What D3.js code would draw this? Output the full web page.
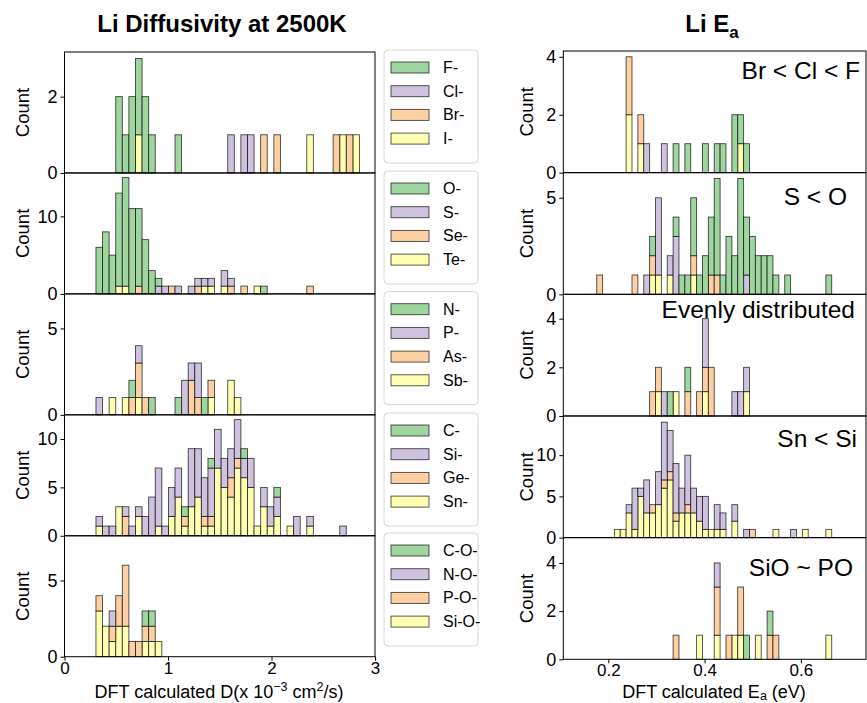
<!DOCTYPE html>
<html>
<head>
<meta charset="utf-8">
<script src="https://cdn.jsdelivr.net/npm/d3@7"></script>
<style>
  body { margin: 0; background: #fff; }
  text { font-family: "Liberation Sans", Arial, sans-serif; fill: #000; }
</style>
</head>
<body>
<svg id="chart" width="867" height="703"></svg>
<script>
// species in each group (legend order; first one is drawn on top of the stack)
const groups = [
  ['F-', 'Cl-', 'Br-', 'I-'],
  ['O-', 'S-', 'Se-', 'Te-'],
  ['N-', 'P-', 'As-', 'Sb-'],
  ['C-', 'Si-', 'Ge-', 'Sn-'],
  ['C-O-', 'N-O-', 'P-O-', 'Si-O-'],
];
const colors = ['#9fd69f', '#cec2df', '#fdd0a4', '#ffffb2'];

// histogram bins: [lo, hi, count]
const binsD = [0.304, 2.85, 40];
const binsEa = [0.176, 0.664, 40];

// counts as [bin index, count] per species
// --- Li diffusivity (left column)
const dHalide = [
  [[3, 2], [4, 1], [5, 2], [6, 2], [7, 2], [8, 1], [12, 1]],
  [[20, 1], [22, 1], [23, 1]],
  [[25, 1], [27, 1], [36, 1], [38, 1]],
  [[6, 1], [32, 1], [37, 1], [39, 1]],
];
const dChalc = [
  [[0, 6], [1, 8], [2, 5], [3, 12], [4, 14], [5, 11], [6, 10], [7, 7], [8, 3], [9, 1], [25, 1]],
  [[9, 1], [10, 1], [12, 1], [14, 1], [15, 1], [16, 1], [17, 1], [19, 2], [20, 1]],
  [[6, 1], [11, 1], [15, 1], [20, 1], [22, 1], [32, 1]],
  [[3, 1], [4, 1], [16, 1], [17, 1], [19, 1], [24, 1]],
];
const dPnict = [
  [[5, 1], [8, 1], [12, 1], [16, 1]],
  [[0, 1], [6, 1], [13, 2], [14, 1], [15, 2]],
  [[5, 1], [6, 2], [7, 1], [14, 2], [15, 1], [17, 1]],
  [[2, 1], [4, 1], [6, 1], [17, 1], [20, 2], [21, 1]],
];
const dTetrel = [
  [[13, 1], [17, 1], [22, 1], [27, 1]],
  [[0, 1], [1, 1], [2, 1], [4, 1], [5, 1], [6, 1], [7, 2], [8, 4], [9, 6], [10, 1], [11, 3], [12, 3],
   [14, 6], [15, 5], [16, 4], [17, 5], [18, 4], [19, 3], [20, 3], [21, 4], [22, 2], [23, 3],
   [25, 2], [26, 2], [27, 2], [30, 2], [32, 1], [37, 1]],
  [[4, 2], [13, 1], [16, 1], [17, 1], [20, 2], [21, 1]],
  [[0, 1], [3, 3], [6, 2], [9, 1], [11, 2], [12, 4], [13, 1], [14, 3], [15, 4], [16, 1], [17, 1],
   [18, 7], [19, 5], [20, 4], [21, 7], [22, 6], [23, 5], [24, 1], [25, 3], [26, 1], [27, 2], [29, 1], [32, 1]],
];
const dOxy = [
  [[7, 1], [8, 1]],
  [[2, 1]],
  [[0, 1], [2, 1], [3, 2], [4, 4], [5, 1], [6, 1], [7, 1], [8, 1]],
  [[0, 3], [1, 2], [2, 1], [3, 2], [4, 2], [7, 1], [8, 1], [9, 1]],
];

// --- Li Ea (right column)
const eaHalide = [
  [[13, 1], [15, 1], [18, 1], [20, 1], [21, 1], [23, 2], [24, 1], [25, 1]],
  [[8, 1], [11, 1]],
  [[5, 2], [7, 1]],
  [[5, 2], [7, 1], [24, 1]],
];
const eaChalc = [
  [[9, 1], [13, 1], [14, 1], [15, 1], [16, 3], [17, 1], [18, 2], [19, 3], [20, 5], [21, 1], [22, 3],
   [23, 2], [24, 6], [25, 3], [26, 3], [27, 2], [28, 2], [29, 2], [30, 1], [32, 1], [39, 1]],
  [[8, 1], [10, 4], [12, 1], [13, 3], [25, 1]],
  [[0, 1], [6, 1], [9, 1], [16, 1], [19, 1], [20, 1]],
  [[9, 1], [10, 1], [12, 1], [16, 1]],
];
const eaPnict = [
  [[12, 1], [15, 1]],
  [[11, 1], [18, 2], [23, 1], [24, 1], [25, 1]],
  [[9, 1], [10, 1], [15, 1], [17, 1], [18, 1], [19, 2]],
  [[10, 1], [13, 1], [18, 1], [25, 1]],
];
const eaTetrel = [
  [],
  [[5, 1], [6, 5], [7, 1], [8, 4], [10, 4], [11, 7], [12, 5], [13, 6], [14, 3], [15, 6], [16, 3],
   [17, 3], [18, 4], [20, 3], [21, 2], [23, 2], [25, 1], [33, 1]],
  [[9, 1], [11, 1], [12, 1], [13, 1], [15, 1], [26, 1]],
  [[3, 1], [4, 1], [5, 3], [6, 1], [7, 5], [8, 3], [9, 3], [10, 4], [11, 6], [12, 7], [13, 2], [14, 3],
   [15, 3], [16, 3], [17, 2], [18, 1], [19, 1], [20, 1], [21, 1], [23, 2], [30, 1], [35, 1], [39, 1]],
];
const eaOxy = [
  [[25, 1], [29, 1]],
  [[20, 1]],
  [[13, 1], [20, 2], [22, 1], [24, 2], [29, 1], [30, 1]],
  [[17, 1], [20, 1], [23, 1], [24, 1], [27, 1], [39, 1]],
];

const yMaxD = [3.17, 15.6, 7.0, 12.5, 7.93];
const yMaxEa = [4.2, 6.3, 5.0, 14.75, 5.05];
const yTicksD = [[0, 2], [0, 10], [0, 5], [0, 5, 10], [0, 5]];
const yTicksEa = [[0, 2, 4], [0, 5], [0, 2, 4], [0, 5, 10], [0, 2, 4]];
const notes = ['Br < Cl < F', 'S < O', 'Evenly distributed', 'Sn < Si', 'SiO ~ PO'];

const W = 867, H = 703;
const FONT = '"Liberation Sans", Arial, sans-serif';
const svg = d3.select('#chart');
svg.append('rect').attr('width', W).attr('height', H).attr('fill', '#fff');

const xD = d3.scaleLinear().domain([0, 3]).range([64.5, 375]);
const xEa = d3.scaleLinear().domain([0.10654, 0.7352]).range([563.3, 866]);

function drawColumn(cfg) {
  const ph = (cfg.bottom - cfg.top) / 5;
  const [lo, hi, nBins] = cfg.bins;
  const bw = (hi - lo) / nBins;
  const [xl, xr] = cfg.x.range();

  cfg.panels.forEach((counts, p) => {
    const y0 = cfg.top + p * ph, y1 = y0 + ph;
    const y = d3.scaleLinear().domain([0, cfg.ymax[p]]).range([y1, y0]);
    const keys = groups[p];

    const rows = d3.range(nBins).map((i) => {
      const r = { bin: i };
      keys.forEach((k) => (r[k] = 0));
      return r;
    });
    counts.forEach((list, s) => list.forEach(([b, c]) => (rows[b][keys[s]] += c)));
    // seaborn stacks the last hue level at the bottom
    const layers = d3.stack().keys(keys.slice().reverse())(rows);

    const g = svg.append('g');

    layers.forEach((layer) => {
      const color = colors[keys.indexOf(layer.key)];
      g.append('g')
        .selectAll('rect')
        .data(layer.filter((d) => d[1] > d[0]))
        .join('rect')
        .attr('x', (d) => cfg.x(lo + d.data.bin * bw))
        .attr('width', (d) => cfg.x(lo + (d.data.bin + 1) * bw) - cfg.x(lo + d.data.bin * bw))
        .attr('y', (d) => y(d[1]))
        .attr('height', (d) => y(d[0]) - y(d[1]))
        .attr('fill', color)
        .attr('stroke', 'rgba(0,0,0,0.72)')
        .attr('stroke-width', 0.9);
    });

    // frame
    g.append('rect')
      .attr('x', xl).attr('y', y0)
      .attr('width', xr - xl).attr('height', y1 - y0)
      .attr('fill', 'none').attr('stroke', '#000').attr('stroke-width', 1);

    // y axis
    const ya = g.append('g')
      .attr('transform', `translate(${xl},0)`)
      .call(d3.axisLeft(y).tickValues(cfg.yticks[p]).tickSize(4).tickPadding(3).tickFormat(d3.format('d')));
    ya.select('.domain').remove();
    ya.selectAll('text').style('font-size', '18px').style('font-family', FONT);

    g.append('text')
      .attr('transform', `translate(${cfg.ylabelX},${(y0 + y1) / 2}) rotate(-90)`)
      .attr('text-anchor', 'middle')
      .style('font-size', '18.5px')
      .text('Count');

    if (cfg.notes) {
      g.append('text')
        .attr('x', cfg.notes[p][1]).attr('y', cfg.notes[p][2])
        .attr('text-anchor', 'end')
        .style('font-size', '24.5px')
        .text(cfg.notes[p][0]);
    }

    if (p === 4) {
      const xa = svg.append('g')
        .attr('transform', `translate(0,${y1})`)
        .call(d3.axisBottom(cfg.x).tickValues(cfg.xticks).tickSize(4).tickPadding(1).tickFormat(cfg.xfmt));
      xa.select('.domain').remove();
      xa.selectAll('text').style('font-size', '17px').style('font-family', FONT);
    }
  });
}

drawColumn({
  x: xD, bins: binsD, top: 52, bottom: 656.7,
  panels: [dHalide, dChalc, dPnict, dTetrel, dOxy],
  ymax: yMaxD, yticks: yTicksD, ylabelX: 29,
  xticks: [0, 1, 2, 3], xfmt: d3.format('d'),
});

drawColumn({
  x: xEa, bins: binsEa, top: 51, bottom: 659.3,
  panels: [eaHalide, eaChalc, eaPnict, eaTetrel, eaOxy],
  ymax: yMaxEa, yticks: yTicksEa, ylabelX: 533,
  xticks: [0.2, 0.4, 0.6], xfmt: d3.format('.1f'),
  notes: [[notes[0], 860, 79], [notes[1], 847, 205], [notes[2], 855, 318], [notes[3], 857, 446.5], [notes[4], 853, 575.5]],
});

// legends, one box per panel
const legendTops = [50, 171, 291.7, 413, 533];
groups.forEach((keys, p) => {
  const lg = svg.append('g').attr('transform', `translate(384,${legendTops[p]})`);
  lg.append('rect')
    .attr('width', 94).attr('height', 113).attr('rx', 4)
    .attr('fill', '#fff').attr('stroke', '#d6d6d6').attr('stroke-width', 1);
  keys.forEach((k, i) => {
    const cy = 17.5 + i * 23.7;
    lg.append('rect')
      .attr('x', 7).attr('y', cy - 5.5).attr('width', 38).attr('height', 11)
      .attr('fill', colors[i]).attr('stroke', 'rgba(0,0,0,0.72)').attr('stroke-width', 0.9);
    lg.append('text')
      .attr('x', 59).attr('y', cy + 5.5)
      .style('font-size', '16px')
      .text(k);
  });
});

// titles
svg.append('text')
  .attr('x', 222).attr('y', 32).attr('text-anchor', 'middle')
  .style('font-size', '24px').style('font-weight', 'bold')
  .text('Li Diffusivity at 2500K');
const t2 = svg.append('text')
  .attr('x', 712).attr('y', 32).attr('text-anchor', 'middle')
  .style('font-size', '24px').style('font-weight', 'bold');
t2.append('tspan').text('Li E');
t2.append('tspan').attr('dy', 6).style('font-size', '17px').text('a');

// x labels
const xl1 = svg.append('text')
  .attr('x', 219).attr('y', 698).attr('text-anchor', 'middle')
  .style('font-size', '18px');
xl1.append('tspan').text('DFT calculated D(x 10');
xl1.append('tspan').attr('dy', -7).style('font-size', '12.5px').text('\u22123');
xl1.append('tspan').attr('dy', 7).text(' cm');
xl1.append('tspan').attr('dy', -7).style('font-size', '12.5px').text('2');
xl1.append('tspan').attr('dy', 7).text('/s)');

const xl2 = svg.append('text')
  .attr('x', 714).attr('y', 698).attr('text-anchor', 'middle')
  .style('font-size', '18px');
xl2.append('tspan').text('DFT calculated E');
xl2.append('tspan').attr('dy', 2).style('font-size', '12.5px').text('a');
xl2.append('tspan').attr('dy', -2).text(' (eV)');
</script>
</body>
</html>
